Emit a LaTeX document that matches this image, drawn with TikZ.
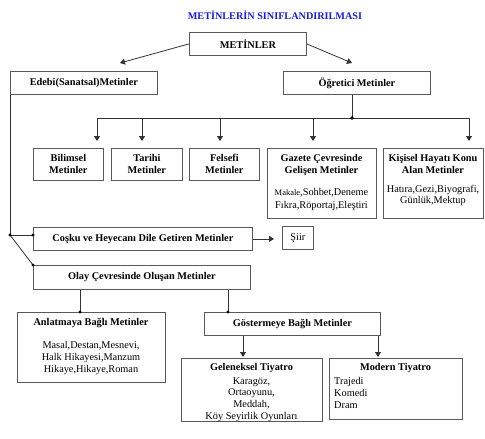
\documentclass[tikz,border=0pt]{standalone}
\usepackage{fontspec}
\setmainfont{Liberation Serif}
\usetikzlibrary{arrows.meta}
\definecolor{titleblue}{RGB}{25,25,230}
\begin{document}
\begin{tikzpicture}[x=1pt,y=-1pt,
  box/.style={draw=black!65, line width=0.8pt, inner sep=0pt, anchor=north west, align=center,
              font=\fontsize{10.3}{12}\selectfont\bfseries},
  txt/.style={inner sep=0pt, align=center, font=\fontsize{10.3}{11.8}\selectfont},
  btxt/.style={inner sep=0pt, align=center, font=\fontsize{10.3}{12}\selectfont\bfseries},
  ln/.style={draw=black!80, line width=0.8pt},
  arr/.style={ln, -{Triangle[length=5pt,width=6pt]}},
  dotc/.style={fill=black}]
\useasboundingbox (0,0) rectangle (485,439);
\fill[white] (0,0) rectangle (485,439);

% title
\node[inner sep=0pt, font=\fontsize{10.2}{12}\selectfont\bfseries, text=titleblue] (title) at (275,15) {METİNLERİN SINIFLANDIRILMASI};

% boxes
\node[box, minimum width=117pt, minimum height=23pt] (met) at (189,32) {METİNLER};
\node[box, minimum width=147pt, minimum height=23pt] (ede) at (10,71) {Edebi(Sanatsal)Metinler};
\node[box, minimum width=147pt, minimum height=23pt] (ogr) at (283,71) {Öğretici Metinler};

\node[box, minimum width=70pt, minimum height=32pt] (bil) at (33,148) {Bilimsel\\Metinler};
\node[box, minimum width=71pt, minimum height=32pt] (tar) at (111,148) {Tarihi\\Metinler};
\node[box, minimum width=70pt, minimum height=32pt] (fel) at (189,148) {Felsefi\\Metinler};
\node[box, minimum width=109pt, minimum height=70pt] (gaz) at (267,148) {};
\node[btxt] (gazt) at (321.5,165) {Gazete Çevresinde\\Gelişen Metinler};
\node[txt, font=\fontsize{10.3}{13}\selectfont] (gazb) at (321.5,199.5) {{\fontsize{8.5}{13}\selectfont Makale},Sohbet,Deneme\\Fıkra,Röportaj,Eleştiri};
\node[box, minimum width=100pt, minimum height=70pt] (kis) at (383,148) {};
\node[btxt] (kist) at (433,164) {Kişisel Hayatı Konu\\Alan Metinler};
\node[txt] (kisb) at (433,195.5) {Hatıra,Gezi,Biyografi,\\Günlük,Mektup};

\node[box, minimum width=219pt, minimum height=23pt] (cos) at (33,227) {Coşku ve Heyecanı Dile Getiren Metinler};
\node[box, font=\fontsize{10.3}{12}\selectfont, minimum width=31pt, minimum height=23pt] (siir) at (282,226) {Şiir};

\node[box, minimum width=217pt, minimum height=24pt] (ola) at (33,265) {Olay Çevresinde Oluşan Metinler};

\node[box, minimum width=148pt, minimum height=70pt] (anl) at (17,312) {};
\node[btxt] (anlt) at (91,323) {Anlatmaya Bağlı Metinler};
\node[txt] (anlb) at (91,358) {Masal,Destan,Mesnevi,\\Halk Hikayesi,Manzum\\Hikaye,Hikaye,Roman};
\node[box, minimum width=176pt, minimum height=23pt] (gos) at (204,312) {Göstermeye Bağlı Metinler};

\node[box, minimum width=141pt, minimum height=63pt] (gel) at (181,358) {};
\node[btxt] (gelt) at (251.5,368) {Geleneksel Tiyatro};
\node[txt] (gelb) at (251.5,399.5) {Karagöz,\\Ortaoyunu,\\Meddah,\\Köy Seyirlik Oyunları};
\node[box, minimum width=133pt, minimum height=61pt] (mod) at (329,358) {};
\node[btxt] (modt) at (395.5,368) {Modern Tiyatro};
\node[txt, align=left, anchor=west] (modb) at (334,393) {Trajedi\\Komedi\\Dram};

% connectors from METİNLER
\coordinate (ae) at (120,63);
\coordinate (ao) at (352,63);
\draw[arr] (met.west) -- (ae);
\draw[arr] (met.east) -- (ao);

% Öğretici bracket
\coordinate (jo) at (352,118);
\coordinate (b1) at (97,118);
\coordinate (b2) at (142,118);
\coordinate (b3) at (220,118);
\coordinate (b4) at (313,118);
\coordinate (b5) at (469,118);
\draw[ln] (jo |- ogr.south) -- (jo);
\draw[ln] (b1) -- (b5);
\draw[arr, shorten >=7pt] (b1) -- (b1 |- bil.north);
\draw[arr, shorten >=7pt] (b2) -- (b2 |- tar.north);
\draw[arr, shorten >=7pt] (b3) -- (b3 |- fel.north);
\draw[arr, shorten >=7pt] (b4) -- (b4 |- gaz.north);
\draw[arr, shorten >=7pt] (b5) -- (b5 |- kis.north);
\fill[dotc] (jo) circle (1.8pt);

% Edebi branch
\coordinate (j1) at (10,235);
\coordinate (jc) at (33,235);
\draw[ln] (ede.south west) -- (j1) -- (jc);
\draw[ln] (j1) -- (ola.north west);
\fill[dotc] (j1) circle (1.6pt);
\fill[dotc] (jc) circle (1.6pt);
\fill[dotc] (ola.north west) circle (1.6pt);

% Coşku -> Şiir
\draw[arr, shorten >=8pt] (cos.east) -- (cos.east -| siir.west);

% Olay -> children
\coordinate (o1) at (80,312);
\coordinate (o2) at (228,312);
\draw[ln] (o1 |- ola.south) -- (o1);
\draw[ln] (o2 |- ola.south) -- (o2);
\fill[dotc] (o1) circle (1.6pt);
\fill[dotc] (o2) circle (1.6pt);

% Göstermeye -> children
\coordinate (g1) at (243,358);
\coordinate (g2) at (378,358);
\draw[arr, shorten >=1pt] (g1 |- gos.south) -- (g1);
\draw[arr, shorten >=1pt] (g2 |- gos.south) -- (g2);
\end{tikzpicture}
\end{document}
